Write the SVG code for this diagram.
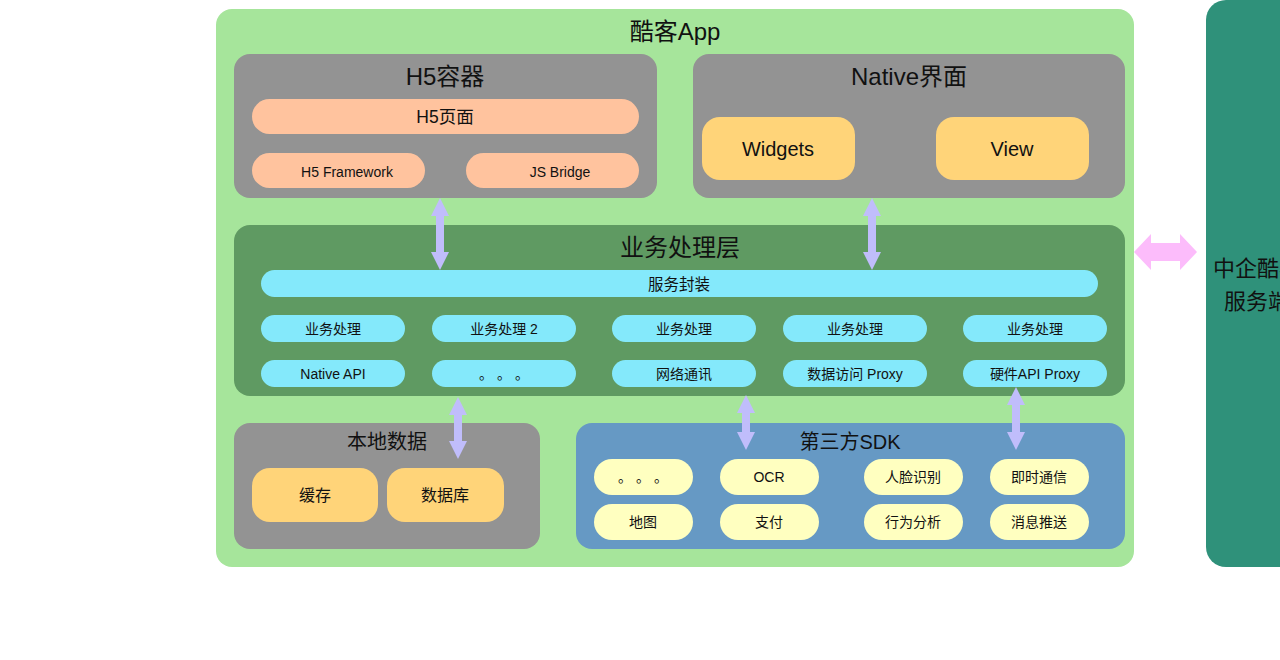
<svg xmlns="http://www.w3.org/2000/svg" width="1280" height="660" viewBox="0 0 1280 660">
<style>
text{font-family:"Liberation Sans","Noto Sans CJK SC",sans-serif;fill:#111;text-anchor:middle;dominant-baseline:central}
.t24{font-size:24px}
.t22{font-size:22px}
.t20{font-size:20px}
.t18{font-size:17.5px}
.t16{font-size:16px}
.t15{font-size:15.5px}
.t14{font-size:14px}
.gray{fill:#939393}
.peach{fill:#ffc39e}
.gold{fill:#ffd479}
.cyan{fill:#84e9fb}
.cream{fill:#ffffc0}
.varrow{fill:#c0bdfb}
</style>
<rect width="1280" height="660" fill="#ffffff"/>
<g id="app">
<rect x="216" y="9" width="918" height="558" rx="16" fill="#a6e59b"/>
<text class="t24" x="675" y="31">酷客App</text>
</g>
<g id="server">
<rect x="1206" y="0" width="110" height="567" rx="20" fill="#2f917a"/>
<text class="t22" x="1257" y="268">中企酷客</text>
<text class="t22" x="1257" y="301">服务端</text>
</g>
<g id="h5">
<rect class="gray" x="234" y="54" width="423" height="144" rx="16"/>
<text class="t24" x="445" y="76">H5容器</text>
<rect class="peach" x="252" y="99" width="387" height="35" rx="17.5"/>
<text class="t18" x="445" y="117">H5页面</text>
<rect class="peach" x="252" y="153" width="173" height="35" rx="17.5"/>
<text class="t14" x="347" y="172">H5 Framework</text>
<rect class="peach" x="466" y="153" width="173" height="35" rx="17.5"/>
<text class="t14" x="560" y="172">JS Bridge</text>
</g>
<g id="native">
<rect class="gray" x="693" y="54" width="432" height="144" rx="16"/>
<text class="t24" x="909" y="76">Native界面</text>
<rect class="gold" x="702" y="117" width="153" height="63" rx="18"/>
<text class="t20" x="778" y="149">Widgets</text>
<rect class="gold" x="936" y="117" width="153" height="63" rx="18"/>
<text class="t20" x="1012" y="149">View</text>
</g>
<g id="biz">
<rect x="234" y="225" width="891" height="171" rx="16" fill="#5f9a62"/>
<text class="t24" x="680" y="247">业务处理层</text>
<rect class="cyan" x="261" y="270" width="837" height="27" rx="13.5"/>
<text class="t15" x="679" y="284">服务封装</text>
<rect class="cyan" x="261" y="315" width="144" height="27" rx="13.5"/>
<text class="t14" x="333" y="329">业务处理</text>
<rect class="cyan" x="432" y="315" width="144" height="27" rx="13.5"/>
<text class="t14" x="504" y="329">业务处理 2</text>
<rect class="cyan" x="612" y="315" width="144" height="27" rx="13.5"/>
<text class="t14" x="684" y="329">业务处理</text>
<rect class="cyan" x="783" y="315" width="144" height="27" rx="13.5"/>
<text class="t14" x="855" y="329">业务处理</text>
<rect class="cyan" x="963" y="315" width="144" height="27" rx="13.5"/>
<text class="t14" x="1035" y="329">业务处理</text>
<rect class="cyan" x="261" y="360" width="144" height="27" rx="13.5"/>
<text class="t14" x="333" y="374">Native API</text>
<rect class="cyan" x="432" y="360" width="144" height="27" rx="13.5"/>
<text class="t14" x="504" y="374">。 。 。</text>
<rect class="cyan" x="612" y="360" width="144" height="27" rx="13.5"/>
<text class="t14" x="684" y="374">网络通讯</text>
<rect class="cyan" x="783" y="360" width="144" height="27" rx="13.5"/>
<text class="t14" x="855" y="374">数据访问 Proxy</text>
<rect class="cyan" x="963" y="360" width="144" height="27" rx="13.5"/>
<text class="t14" x="1035" y="374">硬件API Proxy</text>
</g>
<g id="local">
<rect class="gray" x="234" y="423" width="306" height="126" rx="16"/>
<text class="t20" x="387" y="442">本地数据</text>
<rect class="gold" x="252" y="468" width="126" height="54" rx="18"/>
<text class="t16" x="315" y="495">缓存</text>
<rect class="gold" x="387" y="468" width="117" height="54" rx="18"/>
<text class="t16" x="445" y="495">数据库</text>
</g>
<g id="sdk">
<rect x="576" y="423" width="549" height="126" rx="16" fill="#6699c4"/>
<text class="t20" x="850" y="442">第三方SDK</text>
<rect class="cream" x="594" y="459" width="99" height="36" rx="18"/>
<text class="t14" x="643" y="477">。 。 。</text>
<rect class="cream" x="720" y="459" width="99" height="36" rx="18"/>
<text class="t14" x="769" y="477">OCR</text>
<rect class="cream" x="864" y="459" width="99" height="36" rx="18"/>
<text class="t14" x="913" y="477">人脸识别</text>
<rect class="cream" x="990" y="459" width="99" height="36" rx="18"/>
<text class="t14" x="1039" y="477">即时通信</text>
<rect class="cream" x="594" y="504" width="99" height="36" rx="18"/>
<text class="t14" x="643" y="522">地图</text>
<rect class="cream" x="720" y="504" width="99" height="36" rx="18"/>
<text class="t14" x="769" y="522">支付</text>
<rect class="cream" x="864" y="504" width="99" height="36" rx="18"/>
<text class="t14" x="913" y="522">行为分析</text>
<rect class="cream" x="990" y="504" width="99" height="36" rx="18"/>
<text class="t14" x="1039" y="522">消息推送</text>
</g>
<g id="connectors">
<path class="varrow" d="M440,198 L449,216 L444,216 L444,252 L449,252 L440,270 L431,252 L436,252 L436,216 L431,216 Z"/>
<path class="varrow" d="M872,198 L881,216 L876,216 L876,252 L881,252 L872,270 L863,252 L868,252 L868,216 L863,216 Z"/>
<path class="varrow" d="M458,397 L467,415 L462,415 L462,441 L467,441 L458,459 L449,441 L454,441 L454,415 L449,415 Z"/>
<path class="varrow" d="M746,395 L755,413 L750,413 L750,432 L755,432 L746,450 L737,432 L742,432 L742,413 L737,413 Z"/>
<path class="varrow" d="M1016,387 L1025,405 L1020,405 L1020,432 L1025,432 L1016,450 L1007,432 L1012,432 L1012,405 L1007,405 Z"/>
<path fill="#fcbcfb" d="M1134,252 L1151,234 L1151,243 L1180,243 L1180,234 L1197,252 L1180,270 L1180,261 L1151,261 L1151,270 Z"/>
</g>
</svg>
